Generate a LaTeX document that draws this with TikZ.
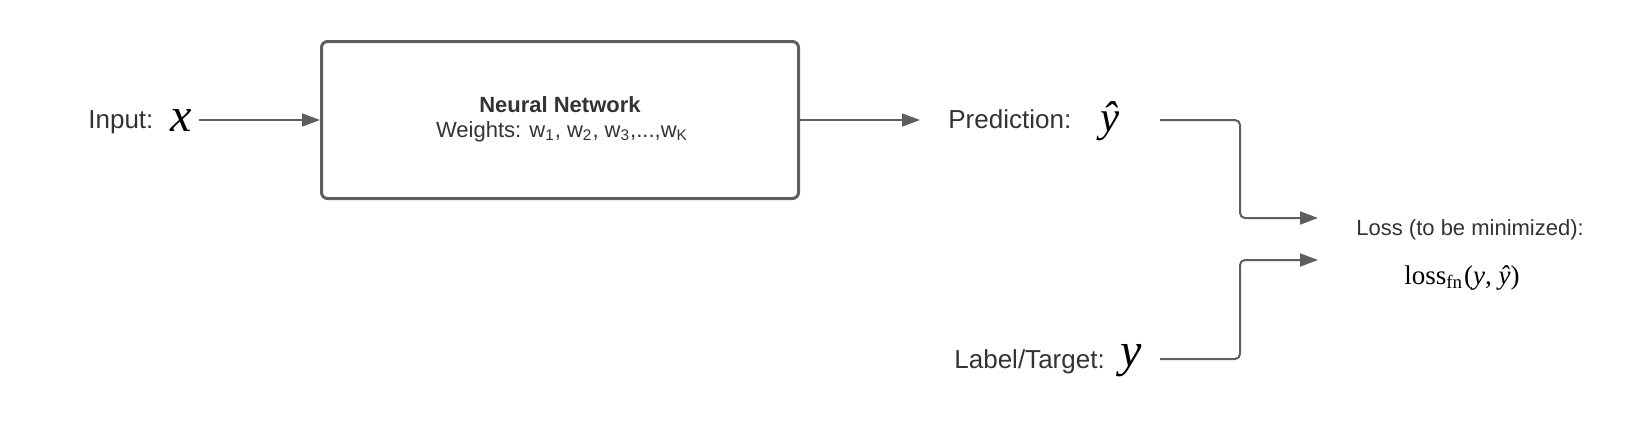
\documentclass[tikz,border=0pt]{standalone}
\usepackage{fontspec}
\setmainfont{Liberation Sans}
\newfontfamily\seriffont{Liberation Serif}
\usetikzlibrary{positioning, arrows.meta}
\definecolor{linegray}{HTML}{5E5E5E}
\definecolor{textgray}{HTML}{333333}

\begin{document}
\begin{tikzpicture}[x=0.5pt, y=-0.5pt,
        txt/.style={text=textgray, inner sep=0pt, font=\fontsize{13}{15}\selectfont},
        smalltxt/.style={text=textgray, inner sep=0pt, font=\fontsize{11}{13}\selectfont},
        sym/.style={inner sep=0pt, font=\fontsize{24}{26}\seriffont\itshape},
        conn/.style={draw=linegray, line width=1pt, rounded corners=2.5pt, -{Triangle[length=9pt, width=6.5pt]}}]
        \useasboundingbox (0,0) rectangle (1640,420);

        % Draw the input
        \node[txt, anchor=base west] (inp) at (88,128) {Input:};
        \node[sym, anchor=base west] (inpx) at (170,131) {x};

        % Draw the network box
        \node[draw=linegray, line width=1.5pt, rounded corners=3pt, minimum width=238.5pt, minimum height=78.5pt] (net) at (560,120) {};
        \node[smalltxt, anchor=base] (nettitle) at (560,112) {\textbf{Neural Network}};
        \node[smalltxt, anchor=base] (netwts) at (562,137) {Weights: w\textsubscript{1}, w\textsubscript{2}, w\textsubscript{3},...,w\textsubscript{K}};

        % Draw the prediction and the label
        \node[txt, anchor=base west] (pred) at (948,128) {Prediction:};
        \node[sym, anchor=base west, font=\fontsize{21.5}{23}\seriffont\itshape] (predy) at (1100,131) {\^{y}};
        \node[txt, anchor=base west] (label) at (954,368) {Label/Target:};
        \node[sym, anchor=base west] (labely) at (1120,366) {y};

        % Draw the loss
        \node[smalltxt, anchor=base west] (loss) at (1356,235) {Loss (to be minimized):};
        \node[anchor=base, inner sep=0pt, font=\fontsize{13.5}{15}\seriffont] (lossfn) at (1462,284) {loss\textsubscript{fn}\kern0.5pt(\textit{y}, \textit{\^{y}})};

        % Free ends of the connectors
        \coordinate (predout) at (1160,120);
        \coordinate (labelout) at (1160,359);
        \coordinate (lossa) at (1318,218);
        \coordinate (lossb) at (1318,260);

        % Draw the connectors
        \draw[conn, shorten <=3.5pt] (inpx.east) -- (inpx.east -| net.west);
        \draw[conn, shorten >=14pt] (net.east) -- (net.east -| pred.west);
        \draw[conn] (predout) -- ++(80,0) |- (lossa);
        \draw[conn] (labelout) -- ++(80,0) |- (lossb);

\end{tikzpicture}
\end{document}
